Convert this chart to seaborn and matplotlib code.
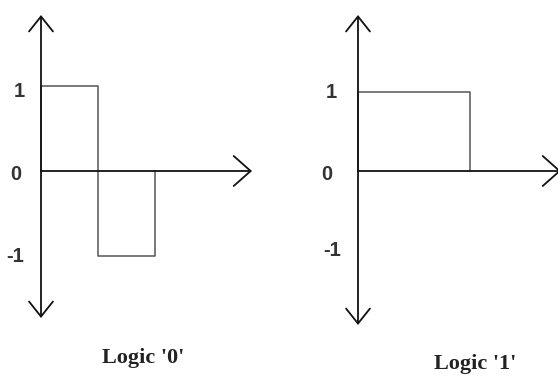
import matplotlib
matplotlib.use("Agg")
import matplotlib.pyplot as plt
import seaborn as sns
import pandas as pd

# Data: half-bit time steps and signal levels (steps-post)
t_logic0 = [0, 0, 1, 2]
v_logic0 = [0, 1, -1, 0]
t_logic1 = [0, 0, 2]
v_logic1 = [0, 1, 0]
tick_values = [1, 0, -1]
tick_labels = ["1", "0", "-1"]
titles = ["Logic '0'", "Logic '1'"]

sns.set_theme(style="white")
plt.rcParams["font.family"] = ["Liberation Sans", "DejaVu Sans"]

W, H = 558, 376
fig = plt.figure(figsize=(W / 100, H / 100), dpi=100)
fig.patch.set_facecolor("white")


def make_axes(x0px, x1px, yaxis_px, unit_x, zero_px, unit_y):
    ax = fig.add_axes([x0px / W, 0, (x1px - x0px) / W, 1])
    ax.set_xlim((x0px - yaxis_px) / unit_x, (x1px - yaxis_px) / unit_x)
    ax.set_ylim(-(H - zero_px) / unit_y, zero_px / unit_y)
    ax.axis("off")
    return ax


panels = [
    dict(x0=0, x1=279, yaxis=41, ux=57, zero=171, uy=85,
         t=t_logic0, v=v_logic0, vtop=15, vbot=318, hend=252,
         labx=[19, 15.5, 15.5], laby=[91, 174, 256],
         title_x=143, title_y=363),
    dict(x0=279, x1=558, yaxis=358, ux=56, zero=171, uy=79,
         t=t_logic1, v=v_logic1, vtop=15, vbot=325, hend=561,
         labx=[331, 327, 332], laby=[92, 175, 251],
         title_x=475, title_y=369),
]

for p, title in zip(panels, titles):
    ax = make_axes(p["x0"], p["x1"], p["yaxis"], p["ux"], p["zero"], p["uy"])
    fx = lambda px: (px - p["yaxis"]) / p["ux"]
    fy = lambda py: (p["zero"] - py) / p["uy"]

    # axes arrows
    ax.annotate("", xy=(0, fy(p["vtop"])), xytext=(0, fy(p["vbot"])),
                arrowprops=dict(arrowstyle="<->,head_length=1.08,head_width=0.86",
                                mutation_scale=10, color="#111111", lw=1.3,
                                shrinkA=0, shrinkB=0))
    ax.annotate("", xy=(fx(p["hend"]), 0), xytext=(0, 0),
                arrowprops=dict(arrowstyle="->,head_length=1.22,head_width=1.08",
                                mutation_scale=10, color="#111111", lw=1.3,
                                shrinkA=0, shrinkB=0), annotation_clip=False)

    df = pd.DataFrame({"t": p["t"], "v": p["v"]})
    sns.lineplot(data=df, x="t", y="v", ax=ax, estimator=None, sort=False,
                 drawstyle="steps-post", color="#555555", lw=1.1)
    ax.axis("off")

    for val, lab, lx, ly in zip(tick_values, tick_labels, p["labx"], p["laby"]):
        ax.text(fx(lx), fy(ly), lab, ha="center", va="center", fontsize=14.5,
                color="#333333", fontweight="bold", family="Liberation Sans")

    ax.text(fx(p["title_x"]), fy(p["title_y"]), title, ha="center",
            va="baseline", fontsize=16, fontweight="bold", color="#222222",
            family="Liberation Serif")

fig.savefig("out.png", dpi=100, facecolor="white")
